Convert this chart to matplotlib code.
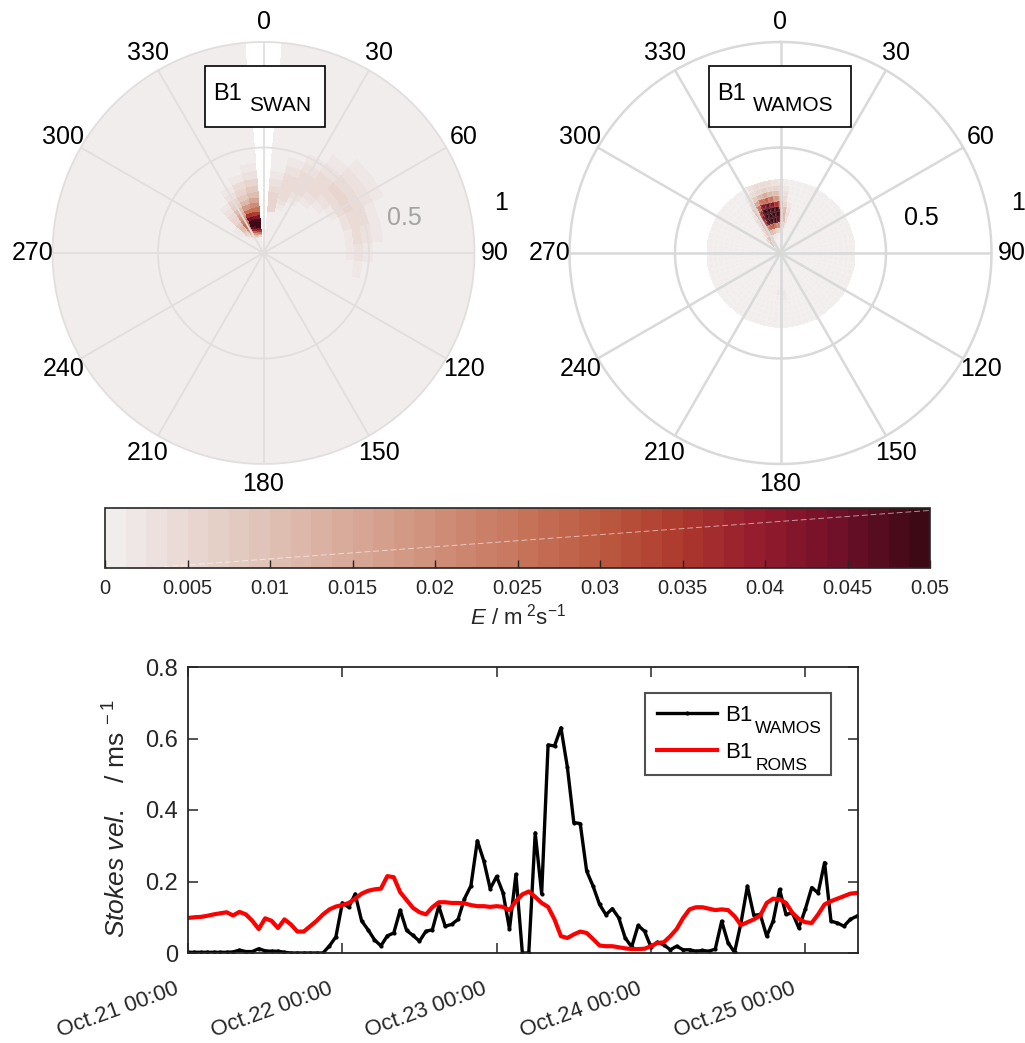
import numpy as np
import matplotlib
matplotlib.use('Agg')
import matplotlib.pyplot as plt
import matplotlib.transforms as mtransforms
from matplotlib.colors import LinearSegmentedColormap, BoundaryNorm
from matplotlib.patches import Rectangle

plt.rcParams['font.family'] = ['Liberation Sans', 'DejaVu Sans']
plt.rcParams['mathtext.fontset'] = 'custom'
plt.rcParams['mathtext.rm'] = 'Liberation Sans'
plt.rcParams['mathtext.it'] = 'Liberation Sans:italic'
plt.rcParams['mathtext.sf'] = 'Liberation Sans'

W, H = 1025, 1043  # output size in pixels

# ---------------------------------------------------------------- colour scale
CMAP_COLORS = ['#f1edec', '#e8d6d0', '#dfbfb3', '#d7a796', '#cf8f79', '#c7765d',
               '#bc5a41', '#ad3a2e', '#951b2d', '#6f1029', '#3c0914']
E_MAX = 0.05
N_LEVELS = 40
E_TICKS = [0, 0.005, 0.01, 0.015, 0.02, 0.025, 0.03, 0.035, 0.04, 0.045, 0.05]
E_TICK_LABELS = ['0', '0.005', '0.01', '0.015', '0.02', '0.025', '0.03',
                 '0.035', '0.04', '0.045', '0.05']

# ---------------------------------------------------------------- SWAN spectrum
SWAN_DIR = list(range(0, 360, 10))          # direction bin centres (deg)
SWAN_GAP_DIR = [0]                           # bins without data
SWAN_FREQ = [0.042, 0.046, 0.051, 0.056, 0.061, 0.067, 0.074, 0.082, 0.090, 0.099,
             0.109, 0.119, 0.131, 0.144, 0.159, 0.175, 0.192, 0.211, 0.232, 0.256,
             0.281, 0.309, 0.340, 0.374, 0.412, 0.453, 0.498, 0.548, 0.603, 0.663,
             0.729, 0.802, 0.882, 0.970]

# wind-sea peak
SWAN_SEA_DIR = [310, 320, 330, 340, 350]
SWAN_SEA_FREQ = [0.082, 0.090, 0.099, 0.109, 0.119, 0.131, 0.144, 0.159, 0.175,
                 0.192, 0.211, 0.232, 0.256, 0.281, 0.309, 0.340, 0.374, 0.412]
SWAN_SEA_E = [
    [0.000, 0.000, 0.002, 0.004, 0.006],
    [0.000, 0.001, 0.004, 0.010, 0.014],
    [0.000, 0.002, 0.008, 0.018, 0.024],
    [0.001, 0.004, 0.012, 0.028, 0.034],
    [0.001, 0.006, 0.018, 0.038, 0.042],
    [0.002, 0.008, 0.022, 0.046, 0.050],
    [0.002, 0.010, 0.026, 0.050, 0.050],
    [0.002, 0.010, 0.026, 0.050, 0.048],
    [0.002, 0.008, 0.022, 0.044, 0.042],
    [0.001, 0.006, 0.018, 0.036, 0.034],
    [0.001, 0.005, 0.014, 0.026, 0.026],
    [0.000, 0.004, 0.010, 0.018, 0.020],
    [0.000, 0.003, 0.007, 0.012, 0.015],
    [0.000, 0.002, 0.005, 0.008, 0.011],
    [0.000, 0.001, 0.003, 0.006, 0.008],
    [0.000, 0.000, 0.002, 0.004, 0.005],
    [0.000, 0.000, 0.001, 0.002, 0.003],
    [0.000, 0.000, 0.000, 0.001, 0.002],
]

# weak easterly arc
SWAN_ARC_DIR = [10, 20, 30, 40, 50, 60, 70, 80, 90, 100]
SWAN_ARC_FREQ = [0.211, 0.232, 0.256, 0.281, 0.309, 0.340, 0.374, 0.412, 0.453,
                 0.498, 0.548, 0.603]
SWAN_ARC_E = [
    [0.005, 0.000, 0.000, 0.000, 0.000, 0.000, 0.000, 0.000, 0.000, 0.000],
    [0.006, 0.002, 0.000, 0.000, 0.000, 0.000, 0.000, 0.000, 0.000, 0.000],
    [0.006, 0.003, 0.001, 0.000, 0.000, 0.000, 0.000, 0.000, 0.000, 0.000],
    [0.005, 0.004, 0.002, 0.000, 0.000, 0.000, 0.000, 0.000, 0.000, 0.000],
    [0.004, 0.004, 0.003, 0.002, 0.000, 0.000, 0.000, 0.000, 0.000, 0.000],
    [0.003, 0.004, 0.004, 0.003, 0.002, 0.001, 0.000, 0.000, 0.000, 0.000],
    [0.002, 0.004, 0.004, 0.004, 0.003, 0.002, 0.001, 0.000, 0.000, 0.000],
    [0.001, 0.003, 0.004, 0.004, 0.004, 0.004, 0.003, 0.002, 0.002, 0.001],
    [0.000, 0.002, 0.003, 0.004, 0.005, 0.005, 0.004, 0.004, 0.003, 0.002],
    [0.000, 0.001, 0.002, 0.003, 0.004, 0.004, 0.004, 0.003, 0.002, 0.001],
    [0.000, 0.000, 0.001, 0.002, 0.003, 0.003, 0.002, 0.002, 0.001, 0.000],
    [0.000, 0.000, 0.000, 0.001, 0.002, 0.002, 0.001, 0.000, 0.000, 0.000],
]

# ---------------------------------------------------------------- WAMOS spectrum
WAMOS_DIR = list(range(0, 360, 5))
WAMOS_R = [0.0125, 0.0375, 0.0625, 0.0875, 0.1125, 0.1375, 0.1625, 0.1875,
           0.2125, 0.2375, 0.2625, 0.2875, 0.3125, 0.3375]

WAMOS_PEAK_DIR = [315, 320, 325, 330, 335, 340, 345, 350, 355, 0, 5, 10, 15]
WAMOS_PEAK_E = [
    [0.000, 0.000, 0.000, 0.000, 0.000, 0.000, 0.000, 0.000, 0.000, 0.000, 0.000, 0.000, 0.000],
    [0.006, 0.004, 0.002, 0.002, 0.000, 0.000, 0.000, 0.000, 0.000, 0.000, 0.000, 0.000, 0.000],
    [0.010, 0.010, 0.006, 0.004, 0.002, 0.001, 0.000, 0.000, 0.000, 0.000, 0.000, 0.000, 0.000],
    [0.006, 0.010, 0.012, 0.008, 0.005, 0.003, 0.002, 0.002, 0.001, 0.000, 0.000, 0.000, 0.000],
    [0.002, 0.004, 0.008, 0.012, 0.014, 0.012, 0.010, 0.008, 0.006, 0.004, 0.002, 0.000, 0.000],
    [0.000, 0.002, 0.006, 0.014, 0.022, 0.028, 0.030, 0.028, 0.022, 0.014, 0.006, 0.002, 0.000],
    [0.000, 0.001, 0.004, 0.016, 0.035, 0.048, 0.050, 0.050, 0.045, 0.030, 0.010, 0.003, 0.001],
    [0.000, 0.000, 0.004, 0.016, 0.040, 0.050, 0.050, 0.050, 0.050, 0.035, 0.012, 0.004, 0.001],
    [0.000, 0.000, 0.003, 0.014, 0.035, 0.050, 0.050, 0.050, 0.048, 0.030, 0.010, 0.003, 0.000],
    [0.000, 0.000, 0.002, 0.010, 0.025, 0.042, 0.046, 0.042, 0.035, 0.020, 0.006, 0.002, 0.000],
    [0.000, 0.000, 0.000, 0.006, 0.015, 0.025, 0.028, 0.024, 0.018, 0.010, 0.004, 0.001, 0.000],
    [0.000, 0.000, 0.000, 0.003, 0.008, 0.012, 0.014, 0.012, 0.010, 0.006, 0.003, 0.000, 0.000],
    [0.000, 0.000, 0.000, 0.002, 0.004, 0.006, 0.007, 0.006, 0.005, 0.004, 0.002, 0.000, 0.000],
    [0.000, 0.000, 0.000, 0.001, 0.003, 0.004, 0.004, 0.004, 0.003, 0.002, 0.001, 0.000, 0.000],
]
WAMOS_SOUTH_DIR = [170, 175, 180, 185, 190]
WAMOS_SOUTH_R = [0.1875, 0.2125]
WAMOS_SOUTH_E = [
    [0.001, 0.002, 0.002, 0.002, 0.001],
    [0.001, 0.002, 0.002, 0.001, 0.000],
]

# ---------------------------------------------------------------- time series (hourly from Oct.21 00:00)
WAMOS_VEL = [0.002, 0.002, 0.002, 0.002, 0.002, 0.002, 0.002, 0.003, 0.008, 0.004,
             0.004, 0.012, 0.006, 0.005, 0.005, 0.002, 0.000, 0.000, 0.000, 0.000,
             0.000, 0.000, 0.020, 0.045, 0.140, 0.128, 0.165, 0.090, 0.065, 0.037,
             0.020, 0.048, 0.056, 0.120, 0.063, 0.049, 0.033, 0.061, 0.065, 0.131,
             0.075, 0.080, 0.094, 0.152, 0.188, 0.314, 0.258, 0.180, 0.214, 0.168,
             0.067, 0.220, 0.000, 0.000, 0.336, 0.166, 0.582, 0.579, 0.630, 0.520,
             0.365, 0.362, 0.229, 0.187, 0.136, 0.107, 0.124, 0.098, 0.042, 0.017,
             0.077, 0.061, 0.017, 0.030, 0.023, 0.009, 0.019, 0.009, 0.009, 0.005,
             0.007, 0.005, 0.011, 0.089, 0.028, 0.002, 0.084, 0.187, 0.105, 0.108,
             0.047, 0.089, 0.178, 0.108, 0.112, 0.070, 0.122, 0.183, 0.168, 0.253,
             0.089, 0.084, 0.075, 0.094, 0.103]
ROMS_VEL = [0.098, 0.100, 0.101, 0.104, 0.108, 0.111, 0.114, 0.105, 0.115, 0.108,
            0.090, 0.067, 0.097, 0.090, 0.070, 0.094, 0.080, 0.060, 0.060, 0.075,
            0.090, 0.108, 0.122, 0.130, 0.134, 0.140, 0.152, 0.166, 0.174, 0.178,
            0.180, 0.215, 0.212, 0.170, 0.148, 0.126, 0.114, 0.108, 0.128, 0.142,
            0.142, 0.140, 0.140, 0.139, 0.134, 0.131, 0.131, 0.129, 0.131, 0.129,
            0.120, 0.145, 0.164, 0.172, 0.157, 0.140, 0.129, 0.094, 0.047, 0.042,
            0.052, 0.060, 0.056, 0.039, 0.021, 0.019, 0.019, 0.016, 0.013, 0.011,
            0.011, 0.012, 0.019, 0.028, 0.030, 0.047, 0.067, 0.098, 0.122, 0.128,
            0.128, 0.124, 0.120, 0.122, 0.120, 0.103, 0.078, 0.086, 0.094, 0.105,
            0.140, 0.152, 0.150, 0.140, 0.112, 0.095, 0.086, 0.084, 0.108, 0.136,
            0.145, 0.152, 0.159, 0.166, 0.168]
DATE_LABELS = ['Oct.21 00:00', 'Oct.22 00:00', 'Oct.23 00:00', 'Oct.24 00:00', 'Oct.25 00:00']
VEL_TICKS = [0, 0.2, 0.4, 0.6, 0.8]
VEL_TICK_LABELS = ['0', '0.2', '0.4', '0.6', '0.8']
SERIES_NAMES = ['WAMOS', 'ROMS']


def fig_box(x0, y0, x1, y1):
    """pixel box (top-left origin) -> figure fraction rect"""
    return [x0 / W, 1 - y1 / H, (x1 - x0) / W, (y1 - y0) / H]


def fill_block(E, dirs_all, r_all, blk_dirs, blk_r, blk_vals):
    for i, r in enumerate(blk_r):
        for j, d in enumerate(blk_dirs):
            E[r_all.index(r), dirs_all.index(d)] = blk_vals[i][j]


def centre_edges(vals, first, last):
    v = np.asarray(vals, dtype=float)
    mids = 0.5 * (v[:-1] + v[1:])
    return np.concatenate([[first], mids, [last]])


def polar_panel(rect, E, dirs, r_edges, dstep, gcol, glw, r05_color, cell_edge):
    ax = fig.add_axes(rect, projection='polar')
    ax.set_theta_zero_location('N')
    ax.set_theta_direction(-1)
    ax.patch.set_alpha(0)
    th_edges = np.deg2rad(np.concatenate([np.asarray(dirs) - dstep / 2,
                                          [dirs[-1] + dstep / 2]]))
    if cell_edge is None:
        ax.pcolormesh(th_edges, r_edges, E, cmap=cmap, norm=norm, shading='flat',
                      antialiased=False, linewidth=0, zorder=1)
    else:
        ax.pcolormesh(th_edges, r_edges, E, cmap=cmap, norm=norm, shading='flat',
                      edgecolors=cell_edge, linewidth=0.4, zorder=1)
    ax.set_ylim(0, 1)
    ax.grid(False)
    ax.set_xticks([])
    ax.set_yticks([])
    ax.spines['polar'].set_visible(False)
    t = np.linspace(0, 2 * np.pi, 721)
    for rr in (0.5, 1.0):
        ax.plot(t, np.full_like(t, rr), color=gcol, lw=glw, zorder=3, clip_on=False)
    for a in range(0, 360, 30):
        ax.plot([np.deg2rad(a)] * 2, [0, 1], color=gcol, lw=glw, zorder=3)
        ax.text(np.deg2rad(a), 1.095, str(a), ha='center', va='center',
                fontsize=18, color='black', clip_on=False)
    ax.text(np.deg2rad(76), 0.69, '0.5', ha='center', va='center', fontsize=18,
            color=r05_color, clip_on=False)
    ax.text(np.deg2rad(78), 1.15, '1', ha='center', va='center', fontsize=18,
            color='black', clip_on=False)
    return ax


cmap = LinearSegmentedColormap.from_list('amp', CMAP_COLORS, N=N_LEVELS)
levels = np.linspace(0, E_MAX, N_LEVELS + 1)
norm = BoundaryNorm(levels, cmap.N, clip=True)

fig = plt.figure(figsize=(W / 100, H / 100), dpi=100)

# ---- SWAN panel
E_swan = np.zeros((len(SWAN_FREQ), len(SWAN_DIR)))
fill_block(E_swan, SWAN_DIR, SWAN_FREQ, SWAN_SEA_DIR, SWAN_SEA_FREQ, SWAN_SEA_E)
fill_block(E_swan, SWAN_DIR, SWAN_FREQ, SWAN_ARC_DIR, SWAN_ARC_FREQ, SWAN_ARC_E)
for d in SWAN_GAP_DIR:
    E_swan[:, SWAN_DIR.index(d)] = np.nan
E_swan = np.ma.masked_invalid(E_swan)
f_edges = centre_edges(SWAN_FREQ, 0.0, 1.0)
polar_panel(fig_box(52.5, 42, 474.5, 464), E_swan, SWAN_DIR, f_edges, 10,
            '#e2dedd', 1.3, '#a3a3a3', None)

# ---- WAMOS panel
E_wamos = np.zeros((len(WAMOS_R), len(WAMOS_DIR)))
fill_block(E_wamos, WAMOS_DIR, WAMOS_R, WAMOS_PEAK_DIR, WAMOS_R, WAMOS_PEAK_E)
fill_block(E_wamos, WAMOS_DIR, WAMOS_R, WAMOS_SOUTH_DIR, WAMOS_SOUTH_R, WAMOS_SOUTH_E)
r_edges = centre_edges(WAMOS_R, 0.0, 0.35)
polar_panel(fig_box(569.5, 42, 991.5, 464), E_wamos, WAMOS_DIR, r_edges, 5,
            '#d9d9d9', 1.8, 'black', (1, 1, 1, 0.12))

# ---- title boxes
for (x0, x1, sub) in [(205, 325, 'SWAN'), (709, 851, 'WAMOS')]:
    fig.patches.append(Rectangle((x0 / W, 1 - 127 / H), (x1 - x0) / W, 61 / H,
                                 transform=fig.transFigure, facecolor='white',
                                 edgecolor='black', lw=1.2, zorder=5))
    fig.text((x0 + 8) / W, 1 - 100 / H, 'B1', fontsize=17, ha='left',
             va='baseline', zorder=6)
    fig.text((x0 + 44) / W, 1 - 111 / H, sub, fontsize=15, ha='left',
             va='baseline', zorder=6)

# ---- colourbar
cax = fig.add_axes(fig_box(105, 508, 930, 568))
sm = plt.cm.ScalarMappable(cmap=cmap, norm=norm)
cb = fig.colorbar(sm, cax=cax, orientation='horizontal', ticks=E_TICKS)
cb.minorticks_off()
cb.ax.set_xticklabels(E_TICK_LABELS)
cb.ax.tick_params(direction='in', length=6, width=1, colors='#262626',
                  labelsize=14.5, pad=8, labelcolor='#262626')
cb.outline.set_linewidth(1.2)
cb.outline.set_edgecolor('#262626')
cax.plot([0.05, 1.0], [0.0, 0.96], transform=cax.transAxes, color='white',
         lw=0.7, alpha=0.55, ls=(0, (6, 3)))
cb.set_label(r'$\mathit{E}$ / m$^{\ 2}$s$^{-1}$', fontsize=16, labelpad=4,
             color='#262626')

# ---- time series
ax3 = fig.add_axes(fig_box(188, 667, 858, 953))
hours = np.arange(len(WAMOS_VEL))
ax3.plot(hours / 24, WAMOS_VEL, color='black', lw=2.4, marker='.', ms=4,
         label='B1')
ax3.plot(np.arange(len(ROMS_VEL)) / 24, ROMS_VEL, color='red', lw=3,
         label='B1')
ax3.set_xlim(0, 104.2 / 24)
ax3.set_ylim(0, 0.8)
ax3.set_yticks(VEL_TICKS)
ax3.set_yticklabels(VEL_TICK_LABELS)
ax3.set_xticks(range(len(DATE_LABELS)))
ax3.tick_params(direction='in', length=7, width=1.1, top=True, right=True,
                labelsize=17, colors='#262626')
ax3.tick_params(axis='x', labelbottom=False)
ax3.tick_params(axis='y', pad=7)
# slanted date labels, top-right corner a little left of / below each tick
lab_tr = ax3.get_xaxis_transform() + mtransforms.ScaledTranslation(
    -14 / 100, -25 / 100, fig.dpi_scale_trans)
for i, lab in enumerate(DATE_LABELS):
    ax3.text(i, 0, lab, transform=lab_tr, rotation=20, rotation_mode='anchor',
             ha='right', va='top', fontsize=16, color='#262626', clip_on=False)
for sp in ax3.spines.values():
    sp.set_linewidth(1.3)
    sp.set_color('#262626')
ax3.set_ylabel(r'$\mathit{Stokes\ vel.}$   / ms$^{\ -1}$', fontsize=19,
               color='#262626')
ax3.yaxis.set_label_coords(-0.085, 0.47)
leg = ax3.legend(loc='upper left', bbox_to_anchor=fig_box(645, 693, 831, 780),
                 bbox_transform=fig.transFigure, mode='expand', fontsize=16,
                 fancybox=False, handlelength=2.7, handletextpad=0.35,
                 borderpad=0.55, labelspacing=0.7, numpoints=1,
                 borderaxespad=0)
leg.get_frame().set_edgecolor('#262626')
leg.get_frame().set_linewidth(1.5)

# subscripts next to the legend labels
fig.canvas.draw()
renderer = fig.canvas.get_renderer()
for txt, name in zip(leg.get_texts(), SERIES_NAMES):
    bb = txt.get_window_extent(renderer)
    fig.text((bb.x1 + 3) / W, (bb.y0 + 4 - 11) / H, name, fontsize=12.5,
             ha='left', va='baseline', color='black')

fig.savefig('out.png', dpi=100)
